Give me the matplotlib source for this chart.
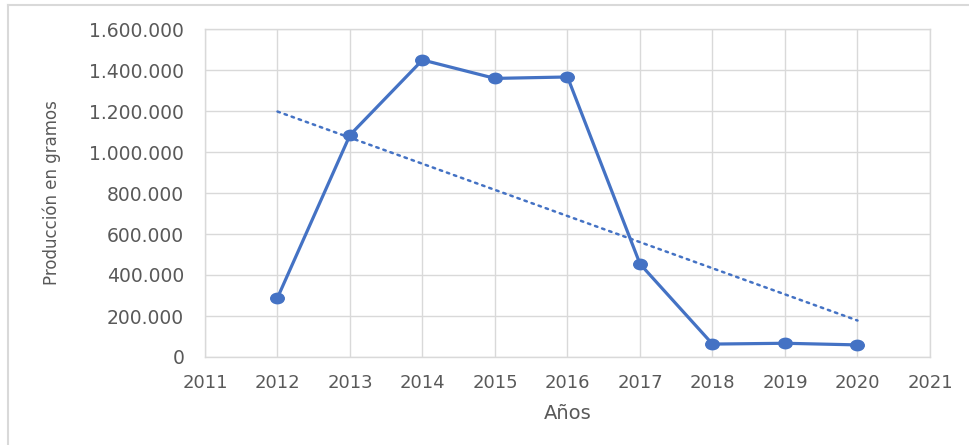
import numpy as np
import matplotlib
matplotlib.use("Agg")
import matplotlib.pyplot as plt
from matplotlib.lines import Line2D
from matplotlib.markers import MarkerStyle
from matplotlib.transforms import Affine2D
from matplotlib.ticker import FuncFormatter

# Production (grams) per year
years = [2012, 2013, 2014, 2015, 2016, 2017, 2018, 2019, 2020]
produccion = [289000, 1083000, 1449000, 1359000, 1366000, 454000, 63000, 67000, 59000]

x_ticks = list(range(2011, 2022))
y_ticks = list(range(0, 1600001, 200000))

BLUE = "#4472C4"
GRID = "#d9d9d9"
TEXT = "#595959"

plt.rcParams["font.family"] = ["DejaVu Sans"]

fig = plt.figure(figsize=(9.70, 4.45), dpi=100)
fig.patch.set_facecolor("white")
ax = fig.add_axes([205 / 970, 1 - 357 / 445, (930 - 205) / 970, (357 - 29) / 445])

# linear trend over the data
coef = np.polyfit(years, produccion, 1)
trend = np.polyval(coef, years)
ax.plot([years[0], years[-1]], [trend[0], trend[-1]], color=BLUE, lw=1.8,
        linestyle=(0, (1, 2)), zorder=2, dash_capstyle="round")

marker = MarkerStyle("o", transform=Affine2D().scale(1.3, 1.0))
ax.plot(years, produccion, color=BLUE, lw=2.3, marker=marker, markersize=7.5,
        markerfacecolor=BLUE, markeredgecolor=BLUE, zorder=3)

ax.set_xlim(2011, 2021)
ax.set_ylim(0, 1600000)
ax.set_xticks(x_ticks)
ax.set_yticks(y_ticks)
ax.yaxis.set_major_formatter(
    FuncFormatter(lambda v, p: f"{int(v):,}".replace(",", ".")))

ax.grid(True, color=GRID, lw=1.0, zorder=0)
ax.set_axisbelow(True)
for s in ax.spines.values():
    s.set_color(GRID)
    s.set_linewidth(1.0)

ax.tick_params(axis="both", length=0, colors=TEXT)
ax.tick_params(axis="y", pad=15, labelsize=13.5)
ax.tick_params(axis="x", pad=12, labelsize=13)

ax.set_xlabel("Años", fontsize=14, color=TEXT, labelpad=9)
ax.set_ylabel("Producción en gramos", fontsize=12, color=TEXT, labelpad=20)

# chart frame
fig.add_artist(Line2D([8 / 970, 8 / 970], [0, 1 - 5 / 445],
                      transform=fig.transFigure, color=GRID, lw=1.5))
fig.add_artist(Line2D([8 / 970, 1], [1 - 5 / 445, 1 - 5 / 445],
                      transform=fig.transFigure, color=GRID, lw=1.5))

fig.savefig("out.png", dpi=100, facecolor="white")
